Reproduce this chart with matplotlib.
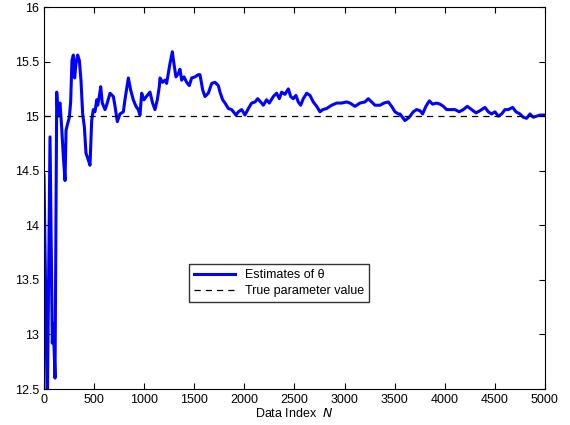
import numpy as np
import matplotlib.pyplot as plt

# estimate trajectory: data index and estimate
idx = [0, 33, 60, 83, 93, 110, 127, 140, 150,
       160, 176, 193, 210, 220, 233, 253, 266, 279, 293, 306, 319, 336, 353,
       369, 386, 403, 419, 442, 459, 476, 492, 509, 526, 536, 552, 566, 582,
       609, 625, 659, 692, 709, 732, 758, 792, 808, 842, 865, 891, 918, 941,
       958, 975, 998, 1031, 1058, 1084, 1108, 1131, 1151,
       1158, 1184, 1208, 1224, 1241, 1257, 1281, 1297, 1317, 1341, 1357, 1374,
       1397, 1424, 1450, 1474, 1507, 1540, 1557, 1584, 1607, 1640, 1674, 1707,
       1740, 1757, 1783, 1807, 1840, 1873, 1916, 1940, 1973, 2006, 2040, 2073,
       2106, 2133, 2172,
       2189, 2222, 2249, 2289, 2322, 2349, 2372, 2405, 2439, 2462, 2488, 2515,
       2538, 2562, 2588, 2622, 2655, 2688, 2722, 2755, 2782, 2821, 2871, 2921,
       2971, 3021, 3054, 3104, 3154, 3204, 3237, 3271, 3304, 3354, 3393, 3437,
       3470, 3503, 3537,
       3553, 3603, 3646, 3686, 3719, 3753, 3779, 3812, 3846, 3879, 3919, 3952,
       3986, 4019, 4052, 4102, 4145, 4185, 4225, 4268, 4312, 4352, 4401, 4435,
       4468, 4501, 4534, 4568, 4601, 4634, 4678, 4711, 4751, 4784, 4817, 4851,
       4884, 4917, 4951, 5000]
theta = [14.46, 12.3, 14.81, 12.92, 13.1, 12.6, 15.22, 15.0, 15.1,
         15.12, 14.90, 14.63, 14.41, 14.87, 14.92, 14.99, 15.13, 15.51, 15.56,
         15.35, 15.48, 15.56, 15.51, 15.33, 15.02, 14.90, 14.66, 14.60, 14.55,
         14.96, 15.06, 15.04, 15.15, 15.10, 15.18, 15.27, 15.12, 15.06, 15.10,
         15.21, 15.18, 15.09, 14.95, 15.02, 15.04, 15.15, 15.35, 15.24, 15.15,
         15.09, 15.06, 15.01, 15.21, 15.15, 15.19, 15.22, 15.12, 15.06, 15.15,
         15.27,
         15.35, 15.31, 15.33, 15.30, 15.39, 15.48, 15.59, 15.48, 15.36, 15.39,
         15.43, 15.33, 15.36, 15.31, 15.28, 15.35, 15.36, 15.38, 15.38, 15.24,
         15.18, 15.21, 15.30, 15.31, 15.28, 15.22, 15.15, 15.12, 15.07, 15.06,
         15.01, 15.04, 15.06, 15.01, 15.07, 15.12, 15.13, 15.16, 15.12,
         15.10, 15.15, 15.12, 15.18, 15.21, 15.16, 15.22, 15.20, 15.25, 15.18,
         15.16, 15.19, 15.13, 15.10, 15.16, 15.21, 15.19, 15.13, 15.09, 15.04,
         15.06, 15.07, 15.10, 15.12, 15.12, 15.13, 15.12, 15.09, 15.12, 15.13,
         15.16, 15.13, 15.10, 15.10, 15.12, 15.13, 15.09, 15.04, 15.02,
         15.02, 14.96, 14.99, 15.04, 15.06, 15.05, 15.02, 15.09, 15.14, 15.11,
         15.12, 15.11, 15.09, 15.06, 15.06, 15.06, 15.04, 15.06, 15.09, 15.06,
         15.03, 15.05, 15.08, 15.04, 15.02, 15.04, 15.00, 15.02, 15.06, 15.06,
         15.08, 15.04, 15.02, 14.99, 14.98, 15.02, 14.99, 15.00, 15.01, 15.01]
true_value = 15.0

plt.rcParams['font.family'] = ['Liberation Sans', 'DejaVu Sans']
fig = plt.figure(figsize=(5.7, 4.25), dpi=100)
ax = fig.add_axes([0.0772, 0.0847, 0.8788, 0.8988])

ax.plot(idx, theta, color='#0000ff', linewidth=2.2, label='Estimates of θ')
ax.axhline(true_value, color='black', linestyle='--', linewidth=0.9,
           dashes=(5, 4), label='True parameter value')

ax.set_xlim(0, 5000)
ax.set_ylim(12.5, 16)
ax.set_xticks(np.arange(0, 5001, 500))
ax.set_yticks([12.5, 13, 13.5, 14, 14.5, 15, 15.5, 16])
ax.set_yticklabels(['12.5', '13', '13.5', '14', '14.5', '15', '15.5', '16'])
ax.tick_params(direction='in', top=True, right=True, labelsize=9, length=4)
ax.set_xlabel(r'Data Index  $N$', fontsize=9, labelpad=1)

leg = ax.legend(loc='upper left', bbox_to_anchor=(0.276, 0.343),
                frameon=True, fancybox=False, edgecolor='black',
                prop={'size': 9}, handlelength=3.3, borderpad=0.4,
                labelspacing=0.3)
leg.get_frame().set_linewidth(1.0)

fig.savefig('out.png', dpi=100)
